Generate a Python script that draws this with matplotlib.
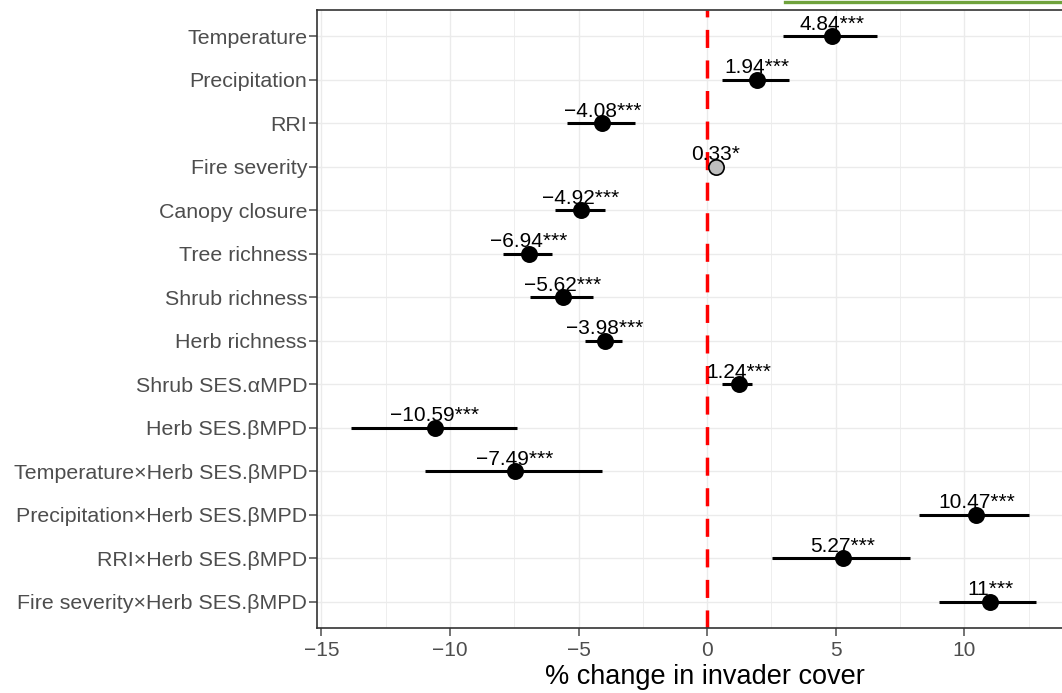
import numpy as np
import matplotlib
matplotlib.use("Agg")
import matplotlib.pyplot as plt
from matplotlib.lines import Line2D

plt.rcParams['font.family'] = ['Liberation Sans', 'DejaVu Sans']

# data
terms = ["Temperature", "Precipitation", "RRI", "Fire severity", "Canopy closure",
         "Tree richness", "Shrub richness", "Herb richness", "Shrub SES.αMPD",
         "Herb SES.βMPD", "Temperature×Herb SES.βMPD", "Precipitation×Herb SES.βMPD",
         "RRI×Herb SES.βMPD", "Fire severity×Herb SES.βMPD"]
est = [4.84, 1.94, -4.08, 0.33, -4.92, -6.94, -5.62, -3.98, 1.24, -10.59, -7.49, 10.47, 5.27, 11]
lo = [2.96, 0.58, -5.45, 0.10, -5.91, -7.94, -6.89, -4.75, 0.58, -13.86, -10.98, 8.25, 2.53, 9.03]
hi = [6.61, 3.19, -2.80, 0.56, -3.97, -6.03, -4.44, -3.31, 1.75, -7.39, -4.09, 12.53, 7.90, 12.78]
stars = ["***", "***", "***", "*", "***", "***", "***", "***", "***", "***", "***", "***", "***", "***"]
signif = [True, True, True, False, True, True, True, True, True, True, True, True, True, True]

fig = plt.figure(figsize=(10.62, 6.93), dpi=100)
# panel runs past the right edge of the image
ax = fig.add_axes([317/1062, 65/693, (1093-317)/1062, (628-10)/693])

n = len(terms)
ypos = np.arange(n)[::-1]

ax.axvline(0, color='#ff0000', lw=2.5, ls=(0, (5.2, 3.6)), zorder=2)

for i in range(n):
    y = ypos[i]
    ax.plot([lo[i], hi[i]], [y, y], color='black', lw=2.2, solid_capstyle='butt', zorder=3)
    fc = 'black' if signif[i] else '#bebebe'
    ax.plot(est[i], y, 'o', ms=11, mfc=fc, mec='black', mew=1.2, zorder=4)
    lab = ("%g" % est[i]).replace('-', '\u2212') + stars[i]
    ax.text(est[i], y + 0.06, lab, ha='center', va='bottom', fontsize=15, color='black', zorder=5)

ax.set_xlim(-15.17, 15.0)
ax.set_ylim(-0.6, n - 0.4)
ax.set_yticks(ypos)
ax.set_yticklabels(terms)
ax.set_xticks([-15, -10, -5, 0, 5, 10])
ax.set_xticklabels(['\u221215', '\u221210', '\u22125', '0', '5', '10'])
ax.set_xticks(np.arange(-12.5, 14, 5), minor=True)
ax.tick_params(axis='both', which='major', colors='#4d4d4d',
               length=6, width=1.1, labelcolor='#4d4d4d')
ax.tick_params(axis='y', labelsize=15.4, pad=1)
ax.tick_params(axis='x', labelsize=15, pad=3)
ax.tick_params(axis='x', which='minor', length=0)
ax.grid(True, which='major', color='#ebebeb', lw=1.0, zorder=0)
ax.grid(True, which='minor', axis='x', color='#ebebeb', lw=0.6, zorder=0)
ax.set_axisbelow(True)
for s in ax.spines.values():
    s.set_color('#333333')
    s.set_linewidth(1.2)

ax.set_xlabel('% change in invader cover', fontsize=19.5, labelpad=3)

fig.add_artist(Line2D([785/1062, 1.0], [1 - 1.5/693, 1 - 1.5/693], color='#6fa23c', lw=2.4,
                      transform=fig.transFigure))

fig.savefig('out.png', dpi=100)
